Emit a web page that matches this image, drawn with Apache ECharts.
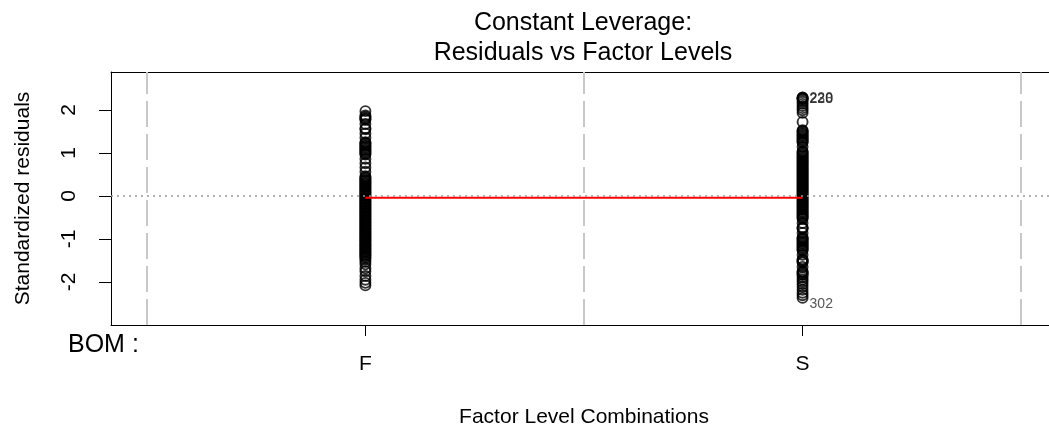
<!DOCTYPE html>
<html>
<head>
<meta charset="utf-8">
<script src="https://cdn.jsdelivr.net/npm/echarts@6/dist/echarts.min.js"></script>
<style>
  html, body { margin: 0; padding: 0; background: #fff; overflow: hidden; }
  /* the plot frame runs a little past the right edge of the page */
  #chart { width: 1070px; height: 435px; }
</style>
</head>
<body>
<div id="chart"></div>
<script>
// Factor levels of BOM
const levels = ['F', 'S'];

// Standardized residuals for each level
const residualsF = [
  -2.08, -2.02, -1.95, -1.86, -1.75, -1.68, -1.59, -1.53, -1.48,
  -1.44, -1.42, -1.39, -1.37, -1.35, -1.32, -1.30, -1.28, -1.25, -1.23,
  -1.21, -1.18, -1.16, -1.14, -1.11, -1.09, -1.06, -1.04, -1.02, -0.99,
  -0.97, -0.95, -0.92, -0.90, -0.88, -0.85, -0.83, -0.81, -0.78, -0.76,
  -0.74, -0.71, -0.69, -0.67, -0.64, -0.62, -0.60, -0.57, -0.55, -0.53,
  -0.50, -0.48, -0.46, -0.43, -0.41, -0.39, -0.36, -0.34, -0.32, -0.29,
  -0.27, -0.25, -0.22, -0.20, -0.18, -0.15, -0.13, -0.11, -0.08, -0.06,
  -0.04, -0.01, 0.01, 0.03, 0.06, 0.08, 0.10, 0.13, 0.15, 0.17,
  0.20, 0.22, 0.24, 0.27, 0.29, 0.31, 0.34, 0.36, 0.38, 0.41,
  0.43, 0.46, 0.56, 0.66, 0.76, 0.86, 0.96, 0.98, 1.01, 1.03,
  1.06, 1.08, 1.11, 1.13, 1.16, 1.18, 1.21, 1.23, 1.25, 1.35,
  1.45, 1.55, 1.57, 1.67, 1.77, 1.79, 1.81, 1.84, 1.87, 1.97
];
const residualsS = [
  -2.37, -2.31, -2.25, -2.18, -2.11, -2.05, -1.99, -1.94, -1.89,
  -1.84, -1.82, -1.79, -1.77, -1.75, -1.65, -1.55, -1.53, -1.51, -1.49,
  -1.47, -1.37, -1.27, -1.25, -1.22, -1.20, -1.17, -1.15, -1.12, -1.10,
  -1.07, -1.05, -1.02, -1.00, -0.98, -0.96, -0.86, -0.76, -0.75, -0.73,
  -0.63, -0.53, -0.51, -0.48, -0.46, -0.43, -0.41, -0.38, -0.36, -0.33,
  -0.31, -0.28, -0.26, -0.23, -0.21, -0.18, -0.16, -0.13, -0.11, -0.08,
  -0.06, -0.03, -0.01, 0.02, 0.04, 0.07, 0.09, 0.12, 0.14, 0.17,
  0.19, 0.22, 0.24, 0.27, 0.29, 0.32, 0.34, 0.37, 0.39, 0.42,
  0.44, 0.47, 0.49, 0.52, 0.54, 0.57, 0.59, 0.62, 0.64, 0.67,
  0.69, 0.72, 0.74, 0.77, 0.79, 0.82, 0.84, 0.87, 0.89, 0.92,
  0.94, 0.97, 0.99, 1.02, 1.04, 1.14, 1.24, 1.26, 1.29, 1.31,
  1.34, 1.36, 1.39, 1.41, 1.44, 1.46, 1.49, 1.51, 1.53, 1.72,
  1.93, 1.99, 2.04, 2.09, 2.14, 2.19, 2.23, 2.26, 2.27, 2.28, 2.29
];

// Fitted (smoothed) residual level per factor level
const groupMeans = [-0.045, -0.045];

// Observations flagged with their row ids (level S)
const flaggedIds = ['220', '228', '230', '302'];
const flaggedValues = [2.29, 2.28, 2.27, -2.37];

const yTicks = [-2, -1, 0, 1, 2];
const levelBounds = [0.5, 1.5, 2.5];

const FONT = '"Liberation Sans", Arial, Helvetica, sans-serif';
const X_MIN = 0.418, X_MAX = 2.582;

const points = [];
residualsF.forEach(v => points.push([1, v]));
residualsS.forEach(v => points.push([2, v]));

const chart = echarts.init(document.getElementById('chart'), null, { renderer: 'canvas' });

chart.setOption({
  animation: false,
  backgroundColor: '#fff',
  grid: {
    left: 111, top: 72, width: 946, height: 253,
    show: false
  },
  xAxis: [
    {
      type: 'value',
      min: X_MIN, max: X_MAX,
      position: 'bottom',
      axisLine: { show: true, onZero: false, lineStyle: { color: '#000', width: 1 } },
      axisTick: { show: true, customValues: [1, 2], length: 11, lineStyle: { color: '#000', width: 1 } },
      axisLabel: {
        customValues: [1, 2],
        formatter: v => levels[Math.round(v) - 1],
        fontFamily: FONT, fontSize: 21, color: '#000', margin: 29
      },
      splitLine: { show: false },
      name: 'Factor Level Combinations',
      nameLocation: 'middle', nameGap: 82,
      nameTextStyle: { fontFamily: FONT, fontSize: 21, color: '#000' }
    },
    {
      // top edge of the plot frame
      type: 'value',
      min: X_MIN, max: X_MAX,
      position: 'top',
      axisLine: { show: true, onZero: false, lineStyle: { color: '#000', width: 1 } },
      axisTick: { show: false },
      axisLabel: { show: false },
      splitLine: { show: false }
    }
  ],
  yAxis: {
    type: 'value',
    min: -3.0, max: 2.88,
    axisLine: { show: true, onZero: false, lineStyle: { color: '#000', width: 1 } },
    axisTick: { show: true, customValues: yTicks, length: 12, lineStyle: { color: '#000', width: 1 } },
    axisLabel: {
      customValues: yTicks,
      rotate: 90,
      fontFamily: FONT, fontSize: 21, color: '#000', margin: 31
    },
    splitLine: { show: false },
    name: 'Standardized residuals',
    nameLocation: 'middle', nameRotate: 90, nameGap: 77,
    nameTextStyle: { fontFamily: FONT, fontSize: 21, color: '#000' }
  },
  graphic: [
    { type: 'text', x: 583, y: 23, silent: true,
      style: { text: 'Constant Leverage:', font: '25px ' + FONT, fill: '#000', align: 'center', verticalAlign: 'middle' } },
    { type: 'text', x: 583, y: 53, silent: true,
      style: { text: 'Residuals vs Factor Levels', font: '25px ' + FONT, fill: '#000', align: 'center', verticalAlign: 'middle' } },
    { type: 'text', x: 68, y: 345, silent: true,
      style: { text: 'BOM :', font: '25px ' + FONT, fill: '#000', align: 'left', verticalAlign: 'middle' } }
  ],
  series: [
    {
      // reference lines: level boundaries and zero
      type: 'line', data: [], z: 1, silent: true,
      markLine: {
        silent: true, symbol: ['none', 'none'], label: { show: false },
        animation: false,
        data: levelBounds.map(x => ({ xAxis: x, lineStyle: { type: [26, 7], color: '#c8c8c8', width: 2 } }))
          .concat([{ yAxis: 0, lineStyle: { type: [2, 4], color: '#9a9a9a', width: 1.5 } }])
      }
    },
    {
      type: 'scatter', z: 3, silent: true,
      data: points,
      symbol: 'circle', symbolSize: 10,
      itemStyle: { color: 'rgba(0,0,0,0)', borderColor: '#000', borderWidth: 1.9 },
      emphasis: { disabled: true }
    },
    {
      type: 'line', z: 4, silent: true,
      data: groupMeans.map((m, i) => [i + 1, m]),
      symbol: 'none',
      lineStyle: { color: '#ff0000', width: 2 }
    },
    {
      type: 'scatter', z: 5, silent: true,
      symbolSize: 0,
      data: flaggedValues.map((v, i) => ({
        value: [2, v],
        label: {
          show: true, position: 'right', distance: 7,
          formatter: flaggedIds[i],
          offset: v < 0 ? [0, 6] : [0, 1],
          fontFamily: FONT, fontSize: 14, color: '#2a2a2a'
        }
      }))
    }
  ]
});
</script>
</body>
</html>
